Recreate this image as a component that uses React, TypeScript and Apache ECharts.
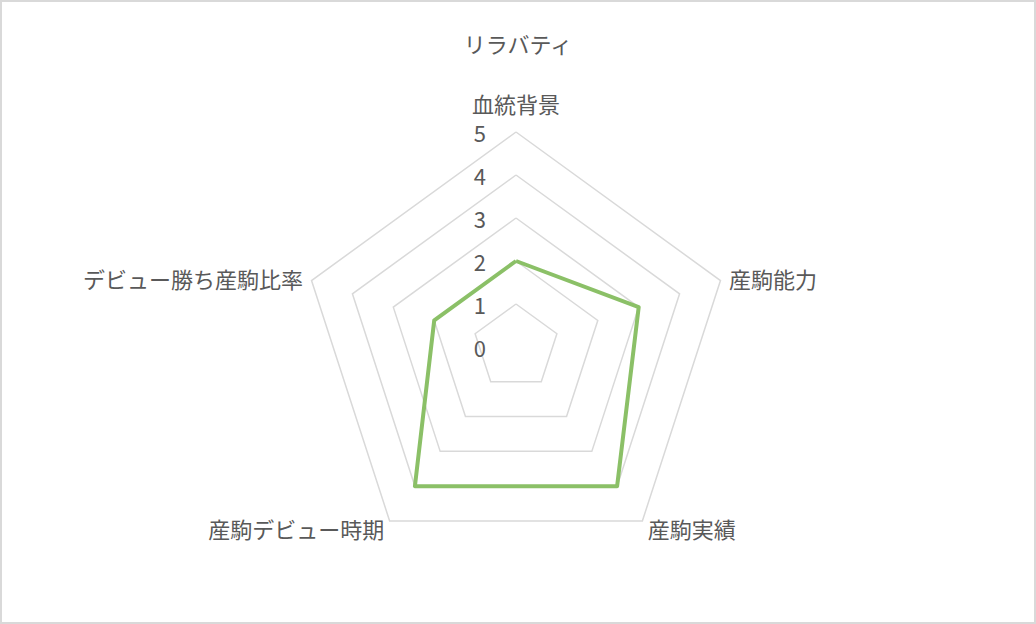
import { useEffect, useRef } from "react";
import * as echarts from "echarts";

const TITLE = "リラバティ";
// clockwise from the top, as in the reference
const INDICATORS = ["血統背景", "産駒能力", "産駒実績", "産駒デビュー時期", "デビュー勝ち産駒比率"];
const VALUES = [2, 3, 4, 4, 2];
const AXIS_MAX = 5;

const FONT = "'Noto Sans CJK JP', sans-serif";

// ECharts radar runs counter-clockwise: keep the first axis on top, reverse the rest
const order = [0, ...INDICATORS.map((_, i) => i).slice(1).reverse()];

export default function App() {
  const chartRef = useRef<HTMLDivElement>(null);

  useEffect(() => {
    if (!chartRef.current) return;
    const chart = echarts.init(chartRef.current, undefined, { renderer: "svg" });

    chart.setOption({
      animation: false,
      title: {
        text: TITLE,
        left: "center",
        top: 27,
        textStyle: { fontFamily: FONT, fontSize: 22, fontWeight: "normal", color: "#595959" },
      },
      radar: {
        center: [516, 347],
        radius: 215,
        shape: "polygon",
        startAngle: 90,
        splitNumber: 5,
        nameGap: 9,
        axisName: { fontFamily: FONT, fontSize: 22, color: "#595959" },
        axisLine: { show: false },
        axisTick: { show: false },
        splitArea: { show: false },
        splitLine: { lineStyle: { color: "#d9d9d9", width: 1.5 } },
        axisLabel: { show: false },
        indicator: order.map((i) => ({
          name: INDICATORS[i],
          min: 0,
          max: AXIS_MAX,
          nameGap: i === 0 ? 18 : 9,
          axisLabel: i === 0
            ? { show: true, fontFamily: FONT, fontSize: 22, color: "#595959", margin: 30, showMinLabel: true }
            : { show: false },
        })),
      },
      series: [
        {
          type: "radar",
          symbol: "none",
          data: [{ value: order.map((i) => VALUES[i]), name: TITLE }],
          lineStyle: { color: "#8bc067", width: 4 },
        },
      ],
    });

    return () => chart.dispose();
  }, []);

  return (
    <div style={{ position: "absolute", left: 0, top: 0, width: 1036, height: 624, background: "#fff" }}>
      <div ref={chartRef} style={{ position: "absolute", left: 0, top: 0, width: 1036, height: 624 }} />
      <div style={{ position: "absolute", left: 0, top: 0, width: 1036, height: 624, boxSizing: "border-box", border: "2px solid #d9d9d9", pointerEvents: "none" }} />
    </div>
  );
}
